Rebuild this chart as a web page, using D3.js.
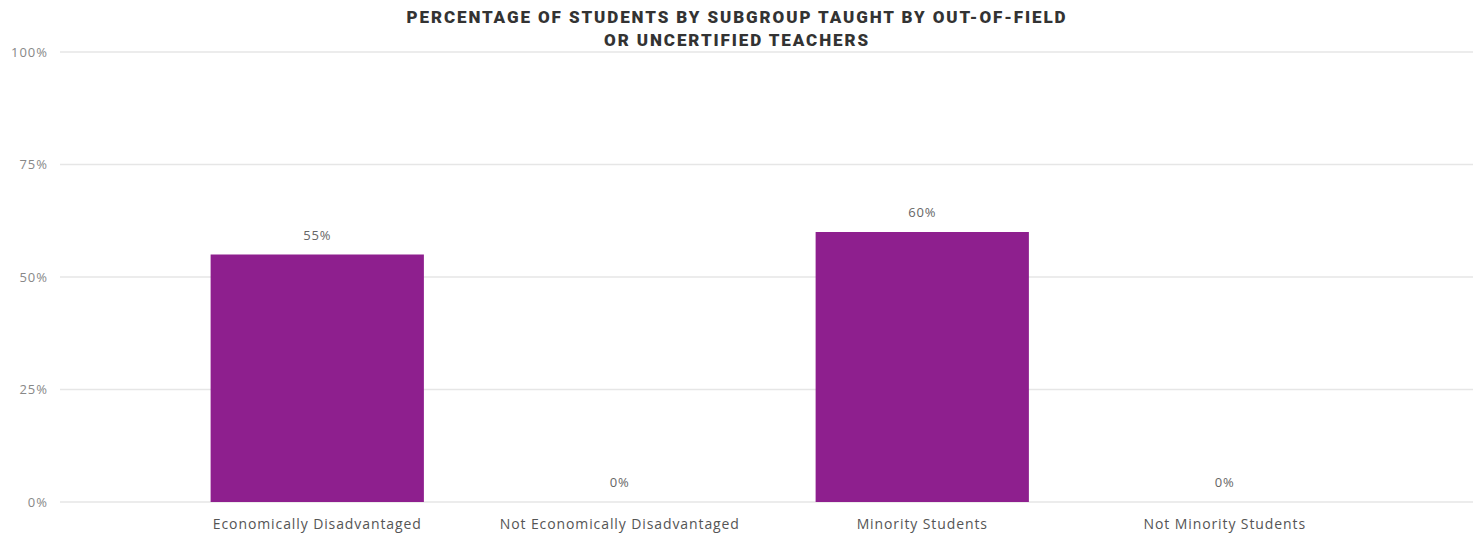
<!DOCTYPE html>
<html>
<head>
<meta charset="utf-8">
<script src="https://cdn.jsdelivr.net/npm/d3@7"></script>
<style>
  body { margin: 0; background: #fff; }
  .title { font-family: "Roboto", sans-serif; font-weight: 900; font-size: 17px; letter-spacing: 1.9px; fill: #333; }
  .tick-label { font-family: "Open Sans", sans-serif; font-size: 13px; letter-spacing: 1px; fill: #888; }
  .cat-label { font-family: "Open Sans", sans-serif; font-size: 14px; letter-spacing: 0.9px; fill: #555; }
  .val-label { font-family: "Open Sans", sans-serif; font-size: 13px; letter-spacing: 0.8px; fill: #666; }
</style>
</head>
<body>
<div id="chart"></div>
<script>
const categories = ["Economically Disadvantaged", "Not Economically Disadvantaged", "Minority Students", "Not Minority Students"];
const values = [55, 0, 60, 0];
const yTicks = [0, 25, 50, 75, 100];
const titleLines = ["PERCENTAGE OF STUDENTS BY SUBGROUP TAUGHT BY OUT-OF-FIELD", "OR UNCERTIFIED TEACHERS"];

const width = 1473, height = 533;

const svg = d3.select("#chart")
    .append("svg")
    .attr("width", width)
    .attr("height", height);

const x = d3.scaleBand()
    .domain(categories)
    .range([166, 1376])
    .paddingInner(0.295)
    .paddingOuter(0.1475);

const y = d3.scaleLinear()
    .domain([0, 100])
    .range([502, 52]);

// gridlines
svg.append("g")
    .selectAll("line")
    .data(yTicks)
    .join("line")
    .attr("x1", 60)
    .attr("x2", width)
    .attr("y1", d => y(d))
    .attr("y2", d => y(d))
    .attr("stroke", "#e6e6e6")
    .attr("stroke-width", 1.5);

const leftAxis = d3.axisLeft(y)
    .tickValues(yTicks)
    .tickFormat(d => d + "%")
    .tickSize(0)
    .tickPadding(0);

svg.append("g")
    .attr("transform", "translate(48,0)")
    .call(leftAxis)
    .call(g => g.select(".domain").remove())
    .call(g => g.selectAll("text").attr("class", "tick-label").attr("dy", "0.32em"));

svg.append("g")
    .selectAll("rect")
    .data(categories)
    .join("rect")
    .attr("x", d => x(d))
    .attr("y", (d, i) => y(values[i]))
    .attr("width", x.bandwidth())
    .attr("height", (d, i) => y(0) - y(values[i]))
    .attr("fill", "#8e1f8e");

svg.append("g")
    .selectAll("text")
    .data(categories)
    .join("text")
    .attr("class", "val-label")
    .attr("x", d => x(d) + x.bandwidth() / 2)
    .attr("y", (d, i) => y(values[i]) - 15)
    .attr("text-anchor", "middle")
    .text((d, i) => values[i] + "%");

const bottomAxis = d3.axisBottom(x).tickSize(0).tickPadding(0);
svg.append("g")
    .attr("transform", "translate(0,519)")
    .call(bottomAxis)
    .call(g => g.select(".domain").remove())
    .call(g => g.selectAll("text").attr("class", "cat-label").attr("dy", "0.71em"));

svg.append("g")
    .selectAll("text")
    .data(titleLines)
    .join("text")
    .attr("class", "title")
    .attr("x", 737)
    .attr("y", (d, i) => 23 + i * 23)
    .attr("text-anchor", "middle")
    .text(d => d);
</script>
</body>
</html>
